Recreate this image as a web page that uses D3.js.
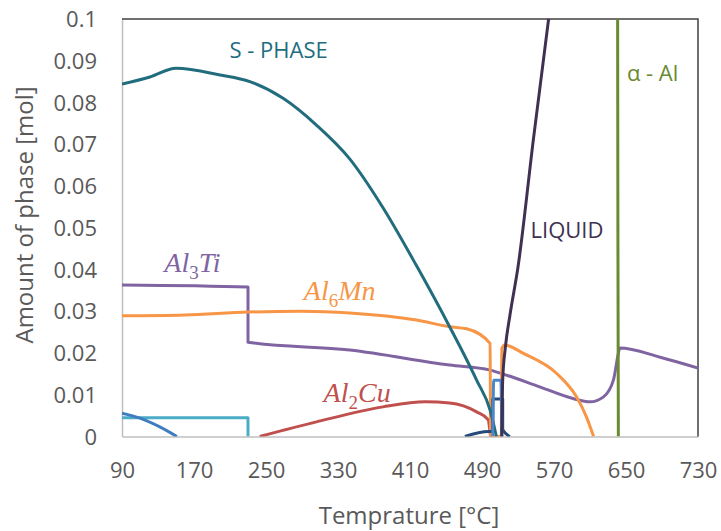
<!DOCTYPE html>
<html lang="en">
<head>
  <meta charset="UTF-8">
  <title>Amount of phase vs temperature</title>
  <script src="https://d3js.org/d3.v7.min.js"></script>
  <style>
    body { margin: 0; background: #fff; }
    svg text { font-family: "Open Sans", sans-serif; }
    .tick text { fill: #595959; font-size: 22px; }
    .series { fill: none; stroke-width: 3px; stroke-linejoin: round; }
    .phase-label { font-size: 22px; }
    .math-label { font-family: "Liberation Serif", serif; font-style: italic; font-size: 28px; }
  </style>
</head>
<body>
  <svg width="721" height="531"></svg>

  <script>
    // temperature ticks and amount ticks
    const xTicks = [90, 170, 250, 330, 410, 490, 570, 650, 730];
    const yTicks = [0, 0.01, 0.02, 0.03, 0.04, 0.05, 0.06, 0.07, 0.08, 0.09, 0.1];

    // [temperature, amount]
    const sPhase = [[90,0.0844],[121,0.0861],[150,0.0882],[199,0.0866],[232,0.085],[269,0.081],[306,0.0746],
      [343,0.0665],[380,0.0548],[417,0.041],[454,0.0263],[484,0.0135],[499,0.0063],[506,0]];
    const liquid = [[512,0],[513,0.0135],[516,0.0214],[521,0.029],[530,0.0406],[547,0.071],[564,0.1],[575,0.12]];
    const alphaAl = [[641.5,0],[641,0.05],[640.7,0.1],[640.6,0.12]];
    const al3Ti = [[90,0.0363],[230,0.0358],[230,0.0226],[343,0.0207],[454,0.0171],[499,0.0159],[517,0.0147],
      [554,0.0119],[591,0.0091],[610,0.0083],[625,0.0095],[636,0.0135],[641.5,0.0199],[643,0.0212],
      [688,0.019],[730,0.0164]];
    const al6Mn = [[90,0.0289],[160,0.0291],[230,0.0298],[290,0.03],[343,0.0296],[417,0.0279],[454,0.0263],
      [473,0.0258],[499,0.0223],[499.5,0],[511.5,0],[512,0.021],[515,0.0219],[536,0.0199],[573,0.0151],
      [595,0.0095],[606,0.0047],[614,0]];
    const al2Cu = [[243,0],[306,0.0035],[380,0.0071],[427,0.0083],[454,0.008],[484,0.0059],[497,0.004],
      [499,0.0008],[499.5,0]];
    const cyanPhase = [[90,0.0045],[230,0.0045],[230,0]];
    const bluePhase = [[90,0.0056],[110,0.0044],[132,0.0023],[151,0]];
    const spikePhase = [[502,0],[503,0.0135],[511,0.0135],[512,0]];
    const navyPhase = [[471,0],[497,0.0012],[502,0.0012],[502,0.009],[513,0.009],[513,0.0016],[521,0]];

    const series = [
      {data: cyanPhase, color: "#4bacc6"},
      {data: bluePhase, color: "#3f7cc0"},
      {data: al2Cu, color: "#c0504d"},
      {data: al3Ti, color: "#8064a2"},
      {data: al6Mn, color: "#f79646"},
      {data: sPhase, color: "#216d7e"},
      {data: navyPhase, color: "#254a7a"},
      {data: spikePhase, color: "#4a86c8"},
      {data: liquid, color: "#403152"},
      {data: alphaAl, color: "#6a8a30", width: 3.5, straight: true}
    ];

    // labels anchored in data units
    const labels = [
      {text: "S - PHASE", t: 264, v: 0.0926, color: "#216d7e", anchor: "middle"},
      {text: "LIQUID", t: 544, v: 0.0495, color: "#403152", anchor: "start"},
      {text: "α - Al", t: 651, v: 0.0871, color: "#6a8a30", anchor: "start"}
    ];
    const mathLabels = [
      {main: "Al", sub: "3", rest: "Ti", t: 137, v: 0.0394, color: "#8064a2"},
      {main: "Al", sub: "6", rest: "Mn", t: 292, v: 0.0327, color: "#f79646"},
      {main: "Al", sub: "2", rest: "Cu", t: 314, v: 0.0083, color: "#c0504d"}
    ];

    const svg = d3.select("svg");
    const x = d3.scaleLinear().domain([90, 730]).range([122, 698]);
    const y = d3.scaleLinear().domain([0, 0.1]).range([436.5, 19]);

    svg.append("defs").append("clipPath").attr("id", "plot-clip")
      .append("rect")
      .attr("x", x(90)).attr("y", y(0.1))
      .attr("width", x(730) - x(90)).attr("height", y(0) - y(0.1));

    // x axis
    const xAxis = svg.append("g")
      .attr("transform", `translate(0,${y(0)})`)
      .call(d3.axisBottom(x).tickValues(xTicks).tickSize(0).tickPadding(26).tickFormat(d3.format("d")));
    xAxis.select(".domain").attr("stroke", "#bfbfbf").attr("stroke-width", 1.5);

    // y axis
    const yAxis = svg.append("g")
      .attr("transform", `translate(${x(90)},0)`)
      .call(d3.axisLeft(y).tickValues(yTicks).tickSize(0).tickPadding(25).tickFormat(d => d === 0 ? "0" : String(d)));
    yAxis.select(".domain").attr("stroke", "#bfbfbf").attr("stroke-width", 1.5);
    yAxis.selectAll(".tick text").attr("dy", "0.35em");

    // top and right border
    svg.append("path")
      .attr("d", `M${x(90)},${y(0.1)}H${x(730)}V${y(0)}`)
      .attr("fill", "none").attr("stroke", "#404040").attr("stroke-width", 1.5);

    const smooth = d3.line().x(d => x(d[0])).y(d => y(d[1])).curve(d3.curveMonotoneX);
    const straight = d3.line().x(d => x(d[0])).y(d => y(d[1]));
    const plot = svg.append("g").attr("clip-path", "url(#plot-clip)");
    plot.selectAll(".series")
      .data(series)
      .enter()
      .append("path")
      .attr("class", "series")
      .attr("d", d => d.straight ? straight(d.data) : smooth(d.data))
      .attr("stroke", d => d.color)
      .attr("stroke-width", d => d.width || 3);

    svg.selectAll(".phase-label")
      .data(labels)
      .enter()
      .append("text")
      .attr("class", "phase-label")
      .attr("x", d => x(d.t))
      .attr("y", d => y(d.v))
      .attr("dy", "0.35em")
      .attr("text-anchor", d => d.anchor)
      .attr("fill", d => d.color)
      .text(d => d.text);

    const ml = svg.selectAll(".math-label")
      .data(mathLabels)
      .enter()
      .append("text")
      .attr("class", "math-label")
      .attr("x", d => x(d.t))
      .attr("y", d => y(d.v))
      .attr("fill", d => d.color);
    ml.append("tspan").text(d => d.main);
    ml.append("tspan").attr("dy", 7).attr("font-size", 19).attr("font-style", "normal").text(d => d.sub);
    ml.append("tspan").attr("dy", -7).text(d => d.rest);

    // axis titles
    svg.append("text")
      .attr("x", 409)
      .attr("y", 524)
      .attr("text-anchor", "middle")
      .attr("fill", "#595959")
      .attr("font-size", 24)
      .text("Temprature [°C]");

    svg.append("text")
      .attr("transform", "translate(33,215) rotate(-90)")
      .attr("text-anchor", "middle")
      .attr("fill", "#595959")
      .attr("font-size", 24)
      .text("Amount of phase [mol]");
  </script>
</body>
</html>
